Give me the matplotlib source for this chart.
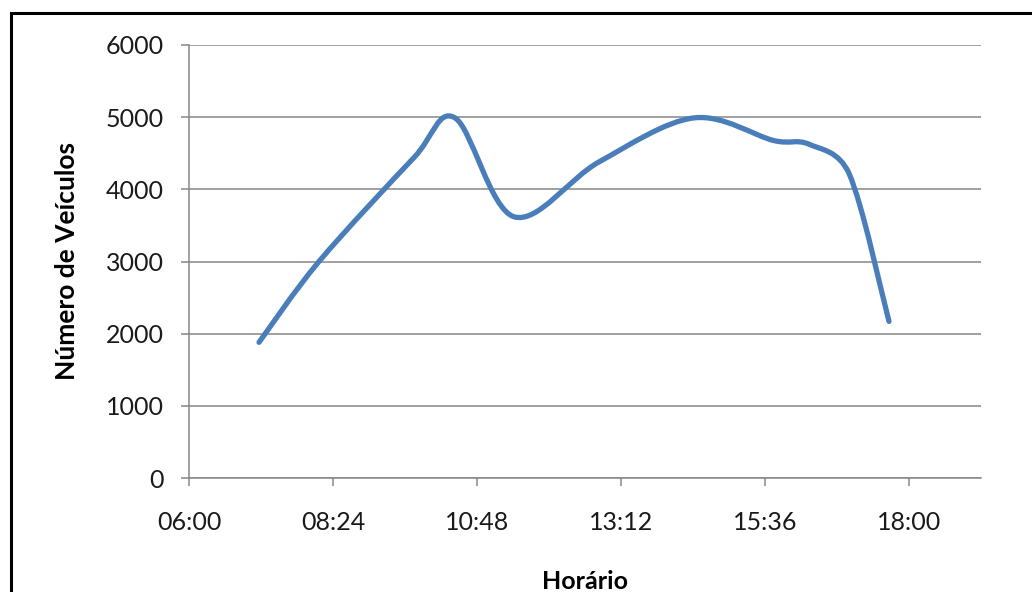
import numpy as np
import matplotlib
matplotlib.use("Agg")
import matplotlib.pyplot as plt
from matplotlib.path import Path
from matplotlib.patches import PathPatch
from matplotlib.lines import Line2D
from matplotlib.ticker import FuncFormatter

# contagem de veículos ao longo do dia
horarios = ["07:10", "08:10", "09:45", "10:26", "11:25", "12:50",
            "14:25", "15:45", "16:20", "17:00", "17:40"]
veiculos = [1880, 3000, 4440, 4990, 3620, 4380, 4990, 4675, 4625, 4220, 2170]

ticks_horas = [6.0, 8.4, 10.8, 13.2, 15.6, 18.0]


def horas(t):
    h, m = t.split(":")
    return int(h) + int(m) / 60


def fmt_hora(v, pos=None):
    h = int(v)
    m = int(round((v - h) * 60))
    if m == 60:
        h, m = h + 1, 0
    return f"{h:02d}:{m:02d}"


def curva_suave(x, y, sx=60.0, sy=0.0722):
    # bezier tipo "linha suavizada" do excel, calculada em escala de tela
    pts = np.column_stack([x * sx, y * sy])
    n = len(pts)
    verts = [pts[0]]
    codes = [Path.MOVETO]
    for i in range(n - 1):
        p0 = pts[max(i - 1, 0)]
        p1 = pts[i]
        p2 = pts[i + 1]
        p3 = pts[min(i + 2, n - 1)]
        seg = np.linalg.norm(p2 - p1)
        t1 = (p2 - p0) / 6
        t2 = (p3 - p1) / 6
        for t in (t1, t2):
            L = np.linalg.norm(t)
            if L > seg / 2:
                t *= (seg / 2) / L
        verts += [p1 + t1, p2 - t2, p2]
        codes += [Path.CURVE4] * 3
    verts = np.array(verts) / [sx, sy]
    return Path(verts, codes)


x = np.array([horas(t) for t in horarios])
y = np.array(veiculos, dtype=float)

plt.rcParams["font.family"] = ["Lato", "DejaVu Sans"]

fig = plt.figure(figsize=(10.32, 5.92), dpi=100)
ax = fig.add_axes([189 / 1032, 1 - 478 / 592, 792 / 1032, 433 / 592])

cinza = "#868686"
ax.set_xlim(6.0, 19.2)
ax.set_ylim(0, 6000)
ax.set_yticks(range(0, 6001, 1000))
ax.set_xticks(ticks_horas)
ax.xaxis.set_major_formatter(FuncFormatter(fmt_hora))
ax.grid(axis="y", color=cinza, linewidth=1.1)
ax.set_axisbelow(True)
for lado in ["top", "right"]:
    ax.spines[lado].set_visible(False)
for lado in ["left", "bottom"]:
    ax.spines[lado].set_color(cinza)
    ax.spines[lado].set_linewidth(1.1)
ax.tick_params(axis="both", colors=cinza, labelcolor="#1a1a1a",
               labelsize=18, length=6, width=1.1)
ax.tick_params(axis="y", pad=12)
ax.tick_params(axis="x", pad=18)

linha = PathPatch(curva_suave(x, y), facecolor="none", edgecolor="#4a7ebb",
                  linewidth=3.8, capstyle="round", joinstyle="round")
ax.add_patch(linha)

ax.set_ylabel("Número de Veículos", fontsize=19, fontweight="bold")
ax.set_xlabel("Horário", fontsize=18, fontweight="bold")
ax.yaxis.set_label_coords(-0.154, 0.5)
ax.xaxis.set_label_coords(0.5, -0.24)
ax.yaxis.label.set_va("center")
ax.xaxis.label.set_va("center")

# moldura do gráfico
fig.add_artist(Line2D([11 / 1032, 11 / 1032], [0, 1 - 13 / 592],
                      color="black", linewidth=2.2))
fig.add_artist(Line2D([11 / 1032, 1], [1 - 13 / 592, 1 - 13 / 592],
                      color="black", linewidth=2.2))

fig.savefig("out.png", dpi=100)
